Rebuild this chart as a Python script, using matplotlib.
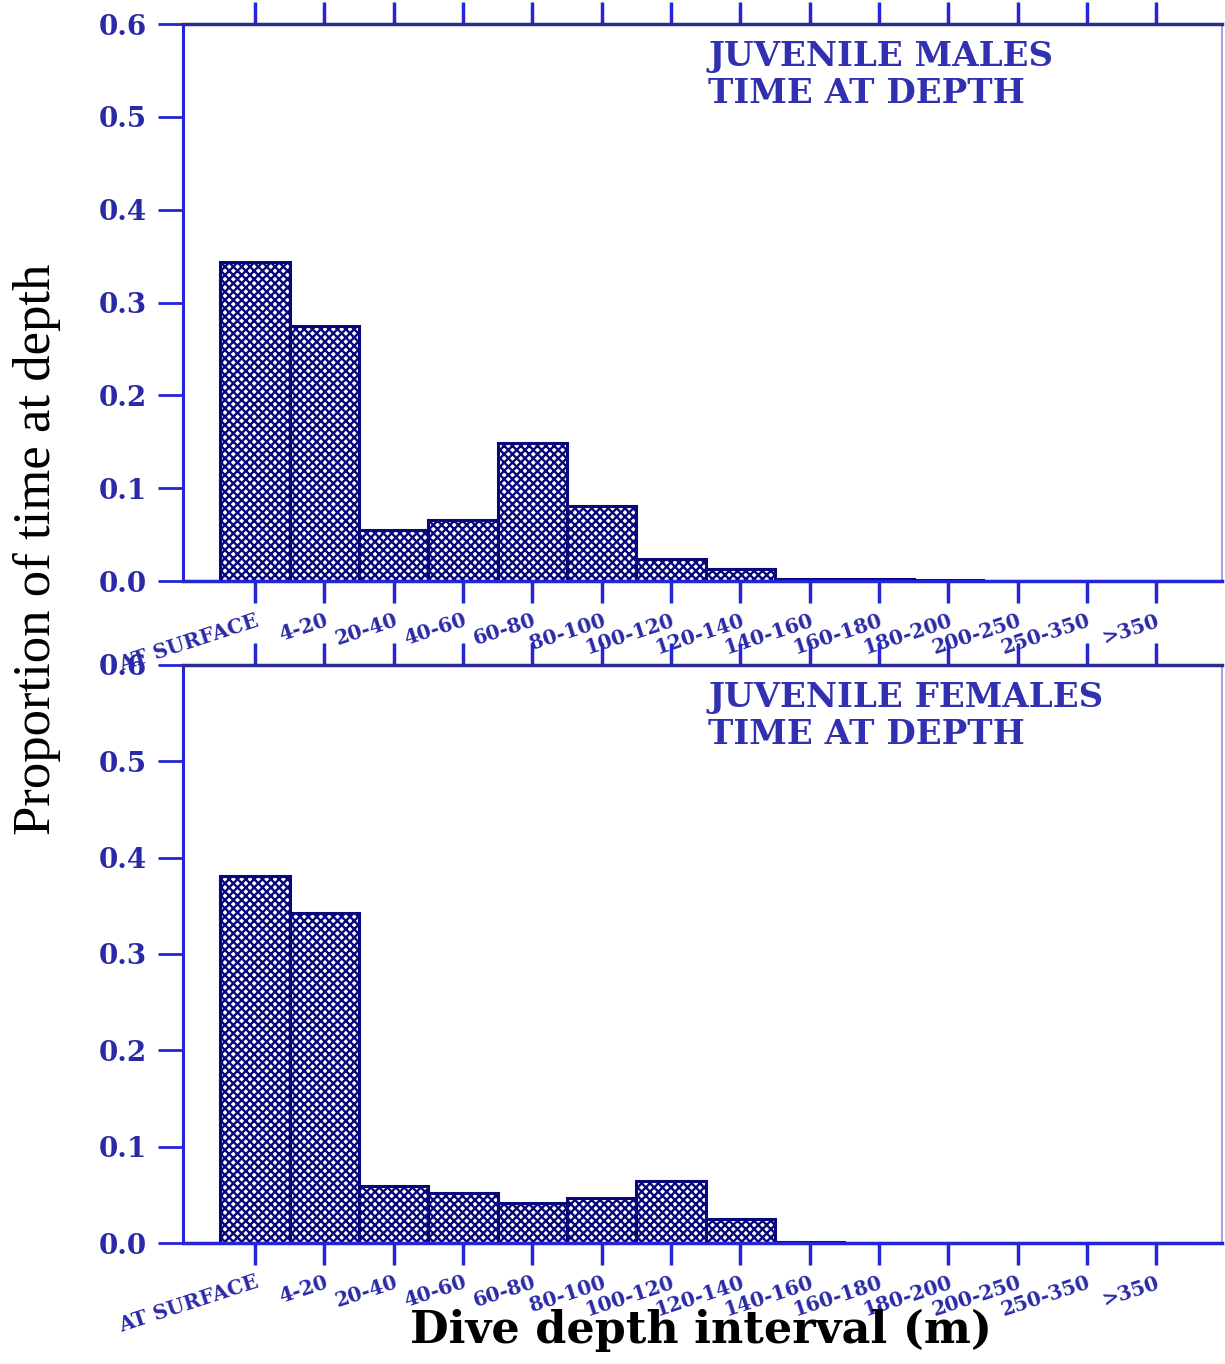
import matplotlib
matplotlib.use('Agg')
import matplotlib.pyplot as plt
import numpy as np

# depth intervals (m)
intervals = ['AT SURFACE', '4-20', '20-40', '40-60', '60-80', '80-100', '100-120',
             '120-140', '140-160', '160-180', '180-200', '200-250', '250-350', '>350']

# proportion of time at depth
males = [0.344, 0.275, 0.055, 0.066, 0.149, 0.081, 0.024, 0.013,
         0.002, 0.002, 0.001, 0.0005, 0.0003, 0.0]
females = [0.381, 0.343, 0.059, 0.052, 0.042, 0.047, 0.064, 0.025,
           0.0008, 0.0005, 0.0003, 0.0002, 0.0, 0.0]

panel_titles = ['JUVENILE MALES\nTIME AT DEPTH', 'JUVENILE FEMALES\nTIME AT DEPTH']
yticks = [0.0, 0.1, 0.2, 0.3, 0.4, 0.5, 0.6]

spine_blue = '#2424d8'
bar_navy = '#08087a'
label_blue = '#2a2aa8'

plt.rcParams['hatch.linewidth'] = 1.7

fig = plt.figure(figsize=(12.25, 13.64), dpi=100)
ax_top = fig.add_axes([0.1494, 0.574, 0.8482, 0.4084])
ax_bot = fig.add_axes([0.1494, 0.0887, 0.8482, 0.4238])

x = np.arange(len(intervals))

for ax, vals, title in zip([ax_top, ax_bot], [males, females], panel_titles):
    ax.bar(x, vals, width=1.0, color='white', edgecolor=bar_navy,
           linewidth=2.2, hatch='xxxx', zorder=2)
    ax.set_xlim(-1.04, 13.95)
    ax.set_ylim(0, 0.6)
    ax.set_yticks(yticks)
    ax.set_yticklabels(['%.1f' % v for v in yticks], fontsize=20,
                       fontweight='bold', color=label_blue, family='DejaVu Serif')
    ax.set_xticks(x)
    ax.set_xticklabels(intervals, rotation=18, ha='right', rotation_mode='anchor',
                       fontsize=14.5, fontweight='bold', color=label_blue,
                       family='DejaVu Serif')
    ax.tick_params(axis='x', direction='out', length=16, width=2.5,
                   color=spine_blue, top=True, pad=5)
    ax.tick_params(axis='y', direction='out', length=18, width=2,
                   color=spine_blue, pad=8)
    ax.spines['left'].set_color(spine_blue)
    ax.spines['left'].set_linewidth(2.2)
    ax.spines['bottom'].set_color(spine_blue)
    ax.spines['bottom'].set_linewidth(2.5)
    ax.spines['top'].set_color('#2c2c90')
    ax.spines['top'].set_linewidth(2.5)
    ax.spines['right'].set_color('#9090e8')
    ax.spines['right'].set_linewidth(1.2)
    ax.text(0.5055, 0.972, title, transform=ax.transAxes, ha='left', va='top',
            fontsize=24.5, fontweight='bold', color='#3030b0',
            family='DejaVu Serif', linespacing=1.15)

fig.text(0.03, 0.597, 'Proportion of time at depth', rotation=90,
         ha='center', va='center', fontsize=38, family='Liberation Serif')
fig.text(0.572, 0.0154, 'Dive depth interval (m)', ha='center', va='baseline',
         fontsize=32, fontweight='bold', family='DejaVu Serif')

fig.savefig('out.png', dpi=100)
